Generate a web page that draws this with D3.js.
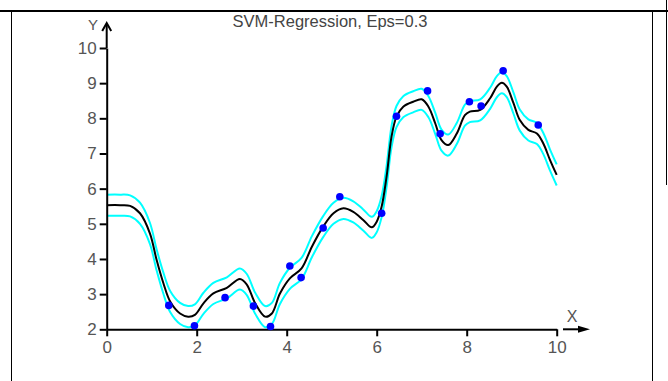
<!DOCTYPE html>
<html><head><meta charset="utf-8">
<script src="https://cdn.jsdelivr.net/npm/d3@7"></script>
<style>
html,body{margin:0;padding:0;background:#fff;}
svg{display:block;}
text{font-family:"Liberation Sans",Arial,sans-serif;}
</style></head>
<body>
<script>
const title = "SVM-Regression, Eps=0.3";
const eps = 0.3;
const xTicks = [0, 2, 4, 6, 8, 10];
const yTicks = [2, 3, 4, 5, 6, 7, 8, 9, 10];
// regression curve samples (x, y)
const curveX = [0,0.3,0.52,0.74,0.96,1.11,1.26,1.41,1.63,1.81,1.96,2.15,2.37,2.67,2.96,3.11,3.30,3.52,3.67,3.85,4.07,4.33,4.56,4.81,5.04,5.26,5.48,5.70,5.89,6.00,6.11,6.22,6.33,6.44,6.59,6.81,7.00,7.15,7.30,7.44,7.59,7.78,7.96,8.07,8.30,8.52,8.67,8.78,8.89,9.04,9.18,9.37,9.56,9.70,9.85,10.0];
const curveY = [5.53,5.53,5.51,5.30,4.73,3.97,3.31,2.79,2.45,2.36,2.41,2.74,3.02,3.18,3.43,3.28,2.74,2.36,2.45,3.02,3.45,3.73,4.35,4.92,5.30,5.44,5.34,5.11,4.90,5.06,5.49,6.35,7.48,8.05,8.33,8.47,8.54,8.33,7.86,7.38,7.24,7.57,8.09,8.19,8.24,8.57,8.90,9.01,8.90,8.43,7.95,7.67,7.57,7.29,6.82,6.39];
// training points
const pointX = [1.38,1.95,2.63,3.26,3.64,4.07,4.32,4.81,5.18,6.11,6.44,7.13,7.41,8.06,8.32,8.81,9.59];
const pointY = [2.68,2.10,2.90,2.66,2.08,3.80,3.47,4.88,5.77,5.30,8.06,8.78,7.56,8.47,8.35,9.35,7.81];

const W = 668, H = 381;
const svg = d3.select("body").append("svg").attr("width", W).attr("height", H);

// frame lines
svg.append("line").attr("x1",0).attr("x2",668).attr("y1",11).attr("y2",11).attr("stroke","#000").attr("stroke-width",2);
svg.append("line").attr("x1",11.5).attr("x2",11.5).attr("y1",11).attr("y2",381).attr("stroke","#000").attr("stroke-width",1);
svg.append("line").attr("x1",652.5).attr("x2",652.5).attr("y1",11).attr("y2",381).attr("stroke","#000").attr("stroke-width",1);
svg.append("line").attr("x1",666.5).attr("x2",666.5).attr("y1",0).attr("y2",185).attr("stroke","#000").attr("stroke-width",1);

const x = d3.scaleLinear().domain([0,10]).range([106.7,556.7]);
const y = d3.scaleLinear().domain([2,10]).range([329.3,48]);

const labelColor = "#555";

// title
svg.append("text").attr("x",330).attr("y",27).attr("text-anchor","middle")
  .attr("font-size",16.5).attr("fill","#444").text(title);

// clip
svg.append("clipPath").attr("id","clip").append("rect")
  .attr("x",x(0)).attr("y",0).attr("width",x(10)-x(0)+2).attr("height",y(2)-0);

const data = curveX.map((v,i)=>({x:v,y:curveY[i]}));
const line = d3.line().x(d=>x(d.x)).curve(d3.curveCatmullRom.alpha(0.5));
const g = svg.append("g").attr("clip-path","url(#clip)");
g.append("path").datum(data).attr("fill","none").attr("stroke","#00FFFF").attr("stroke-width",2)
  .attr("d", line.y(d=>y(d.y+eps)));
g.append("path").datum(data).attr("fill","none").attr("stroke","#00FFFF").attr("stroke-width",2)
  .attr("d", line.y(d=>y(d.y-eps)));
g.append("path").datum(data).attr("fill","none").attr("stroke","#000").attr("stroke-width",2)
  .attr("d", line.y(d=>y(d.y)));

// axes
const xAxis = d3.axisBottom(x).tickValues(xTicks).tickSize(7).tickSizeOuter(0).tickPadding(5);
const gx = svg.append("g").attr("transform",`translate(0,${y(2)})`).call(xAxis);
gx.select(".domain").attr("stroke","#000").attr("stroke-width",2);
gx.selectAll(".tick line").attr("stroke","#000").attr("stroke-width",2);
gx.selectAll(".tick text").attr("font-size",17).attr("fill",labelColor)
  .attr("font-family","'Liberation Sans',Arial,sans-serif");

const yAxis = d3.axisLeft(y).tickValues(yTicks).tickSize(7).tickSizeOuter(0).tickPadding(3);
const gy = svg.append("g").attr("transform",`translate(${x(0)},0)`).call(yAxis);
gy.select(".domain").attr("stroke","#000").attr("stroke-width",2);
gy.selectAll(".tick line").attr("stroke","#000").attr("stroke-width",2);
gy.selectAll(".tick text").attr("font-size",17).attr("fill",labelColor)
  .attr("font-family","'Liberation Sans',Arial,sans-serif");

// y arrow extension
svg.append("line").attr("x1",x(0)).attr("x2",x(0)).attr("y1",y(10)).attr("y2",24).attr("stroke","#000").attr("stroke-width",2);
svg.append("path").attr("d",`M${x(0)-4.5},${31} L${x(0)},${23} L${x(0)+4.5},${31}`)
  .attr("fill","none").attr("stroke","#000").attr("stroke-width",2);
svg.append("text").attr("x",93).attr("y",30).attr("text-anchor","middle").attr("font-size",15).attr("fill",labelColor).text("Y");

// x arrow
svg.append("line").attr("x1",563).attr("x2",582).attr("y1",y(2)).attr("y2",y(2)).attr("stroke","#000").attr("stroke-width",2);
svg.append("path").attr("d",`M${578},${y(2)-3.5} L${590},${y(2)} L${578},${y(2)+3.5} Z`).attr("fill","#000");
svg.append("text").attr("x",572).attr("y",322).attr("text-anchor","middle").attr("font-size",16).attr("fill",labelColor).text("X");

// points
svg.append("g").selectAll("circle").data(pointX.map((v,i)=>({x:v,y:pointY[i]})))
  .enter().append("circle").attr("cx",d=>x(d.x)).attr("cy",d=>y(d.y)).attr("r",3.8).attr("fill","#0000FF");
</script>
</body></html>
